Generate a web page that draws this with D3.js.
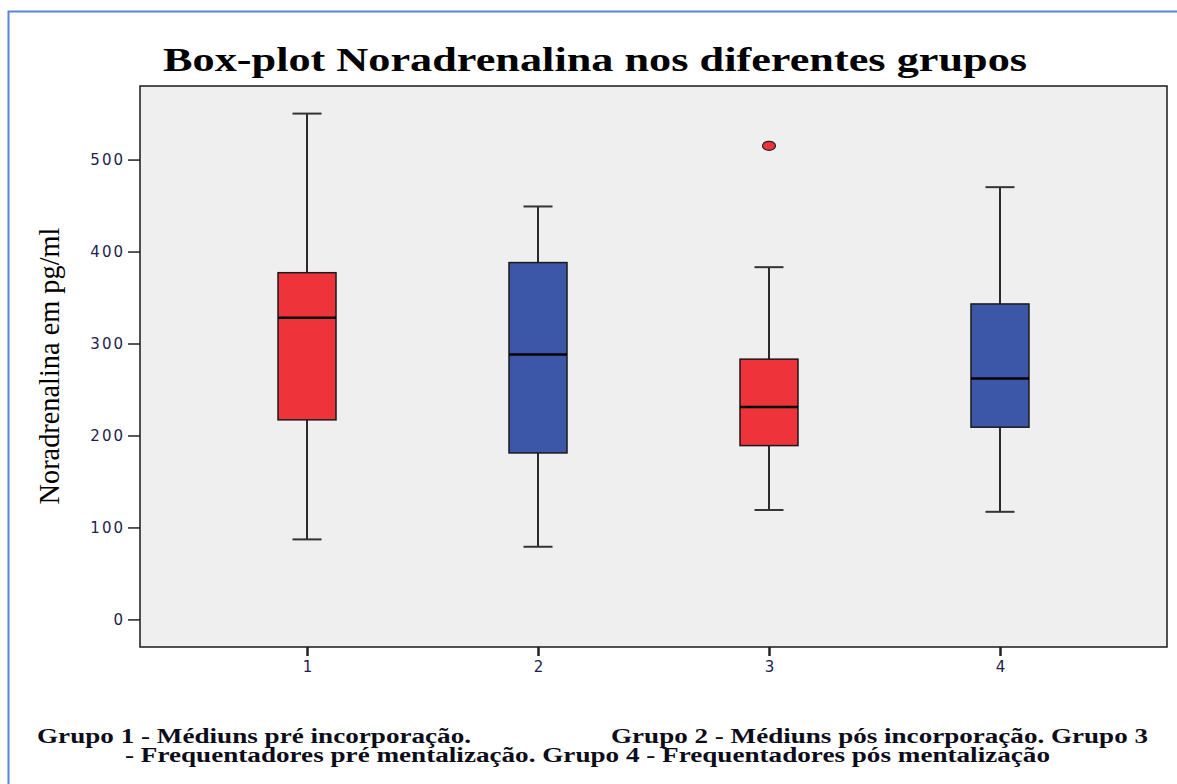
<!DOCTYPE html>
<html>
<head>
<meta charset="utf-8">
<script src="https://cdn.jsdelivr.net/npm/d3@7"></script>
<style>
  html, body { margin: 0; padding: 0; background: #ffffff; }
  svg { display: block; }
</style>
</head>
<body>
<svg id="chart" width="1177" height="784"></svg>
<script>
// Box-plot summary for each group (pg/ml)
const groups      = ["1", "2", "3", "4"];
const whiskerLow  = [87, 79, 119, 117];
const quartile1   = [217, 181, 189, 209];
const medians     = [328, 288, 231, 262];
const quartile3   = [377, 388, 283, 343];
const whiskerHigh = [550, 449, 383, 470];
const outliers    = [[], [], [515], []];
const boxColors   = ["#ef333b", "#3c57a8", "#ef333b", "#3c57a8"];
const yTicks      = [0, 100, 200, 300, 400, 500];

const titleText = "Box-plot Noradrenalina nos diferentes grupos";
const yLabel    = "Noradrenalina em pg/ml";
const noteLine1a = "Grupo 1 - Médiuns pré incorporação.";
const noteLine1b = "Grupo 2 - Médiuns pós incorporação. Grupo 3";
const noteLine2  = "- Frequentadores pré mentalização. Grupo 4 - Frequentadores pós mentalização";

const svg = d3.select("#chart");
const plot = { left: 140, top: 86, right: 1167, bottom: 647 };

// outer frame
svg.append("rect")
  .attr("x", 8.5).attr("y", 11.5)
  .attr("width", 1300).attr("height", 900)
  .attr("fill", "none")
  .attr("stroke", "#5b86d8")
  .attr("stroke-width", 2);

const x = d3.scalePoint()
  .domain(groups)
  .range([plot.left, plot.right])
  .padding(0.723);

const y = d3.scaleLinear()
  .domain([-30, 580])
  .range([plot.bottom, plot.top]);

// plot background
svg.append("rect")
  .attr("x", plot.left).attr("y", plot.top)
  .attr("width", plot.right - plot.left)
  .attr("height", plot.bottom - plot.top)
  .attr("fill", "#efefef");

// title
svg.append("text")
  .attr("x", 595).attr("y", 71)
  .attr("text-anchor", "middle")
  .attr("font-family", "'Liberation Serif', 'DejaVu Serif', serif")
  .attr("font-weight", "bold")
  .attr("font-size", 34)
  .attr("fill", "#000")
  .attr("textLength", 864)
  .attr("lengthAdjust", "spacingAndGlyphs")
  .text(titleText);

// y axis
const yAxis = d3.axisLeft(y).tickValues(yTicks).tickSize(12).tickPadding(3);
const gy = svg.append("g")
  .attr("transform", `translate(${plot.left},0)`)
  .call(yAxis);
gy.select(".domain").remove();
gy.selectAll(".tick line").attr("stroke", "#222").attr("stroke-width", 1.5);
gy.selectAll(".tick text")
  .attr("font-family", "'DejaVu Sans', Verdana, sans-serif")
  .attr("font-size", 15)
  .attr("letter-spacing", "2px")
  .attr("fill", "#1d1d4e");

// x axis
const xAxis = d3.axisBottom(x).tickSize(9).tickPadding(5);
const gx = svg.append("g")
  .attr("transform", `translate(0,${plot.bottom})`)
  .call(xAxis);
gx.select(".domain").remove();
gx.selectAll(".tick line").attr("stroke", "#222").attr("stroke-width", 2.5);
gx.selectAll(".tick text")
  .attr("font-family", "'DejaVu Sans', Verdana, sans-serif")
  .attr("font-size", 15)
  .attr("fill", "#1d1d4e");

// y axis title
svg.append("text")
  .attr("transform", "translate(59,366) rotate(-90)")
  .attr("text-anchor", "middle")
  .attr("font-family", "'Liberation Serif', 'Times New Roman', serif")
  .attr("font-size", 30)
  .attr("fill", "#000")
  .attr("textLength", 277)
  .attr("lengthAdjust", "spacingAndGlyphs")
  .text(yLabel);

// boxes
const boxW = 58, capW = 29;
const data = groups.map((g, i) => ({
  g, lo: whiskerLow[i], q1: quartile1[i], med: medians[i],
  q3: quartile3[i], hi: whiskerHigh[i], out: outliers[i], color: boxColors[i]
}));

const box = svg.append("g").selectAll("g").data(data).join("g");

box.append("line")
  .attr("x1", d => x(d.g)).attr("x2", d => x(d.g))
  .attr("y1", d => y(d.hi)).attr("y2", d => y(d.q3))
  .attr("stroke", "#2a2a2a").attr("stroke-width", 2);
box.append("line")
  .attr("x1", d => x(d.g)).attr("x2", d => x(d.g))
  .attr("y1", d => y(d.q1)).attr("y2", d => y(d.lo))
  .attr("stroke", "#2a2a2a").attr("stroke-width", 2);
box.append("line")
  .attr("x1", d => x(d.g) - capW / 2).attr("x2", d => x(d.g) + capW / 2)
  .attr("y1", d => y(d.hi)).attr("y2", d => y(d.hi))
  .attr("stroke", "#333").attr("stroke-width", 2);
box.append("line")
  .attr("x1", d => x(d.g) - capW / 2).attr("x2", d => x(d.g) + capW / 2)
  .attr("y1", d => y(d.lo)).attr("y2", d => y(d.lo))
  .attr("stroke", "#333").attr("stroke-width", 2);
box.append("rect")
  .attr("x", d => x(d.g) - boxW / 2)
  .attr("y", d => y(d.q3))
  .attr("width", boxW)
  .attr("height", d => y(d.q1) - y(d.q3))
  .attr("fill", d => d.color)
  .attr("stroke", "#1a1a1a").attr("stroke-width", 1.5);
box.append("line")
  .attr("x1", d => x(d.g) - boxW / 2).attr("x2", d => x(d.g) + boxW / 2)
  .attr("y1", d => y(d.med)).attr("y2", d => y(d.med))
  .attr("stroke", "#000").attr("stroke-width", 2.5);
box.selectAll("ellipse").data(d => d.out.map(v => ({ g: d.g, v, color: d.color })))
  .join("ellipse")
  .attr("cx", d => x(d.g)).attr("cy", d => y(d.v))
  .attr("rx", 6.5).attr("ry", 4.5)
  .attr("fill", d => d.color)
  .attr("stroke", "#222").attr("stroke-width", 1.2);

// plot frame
svg.append("rect")
  .attr("x", plot.left).attr("y", plot.top)
  .attr("width", plot.right - plot.left)
  .attr("height", plot.bottom - plot.top)
  .attr("fill", "none")
  .attr("stroke", "#1a1a1a").attr("stroke-width", 1.5);

// group notes below the chart
const noteFont = "'Liberation Serif', 'DejaVu Serif', serif";
function note(xPos, yPos, len, txt) {
  svg.append("text")
    .attr("x", xPos).attr("y", yPos)
    .attr("font-family", noteFont)
    .attr("font-weight", "bold")
    .attr("font-size", 20)
    .attr("fill", "#0d0d1a")
    .attr("textLength", len)
    .attr("lengthAdjust", "spacingAndGlyphs")
    .text(txt);
}
note(37, 743, 434, noteLine1a);
note(611, 743, 537, noteLine1b);
note(125, 762, 925, noteLine2);
</script>
</body>
</html>
